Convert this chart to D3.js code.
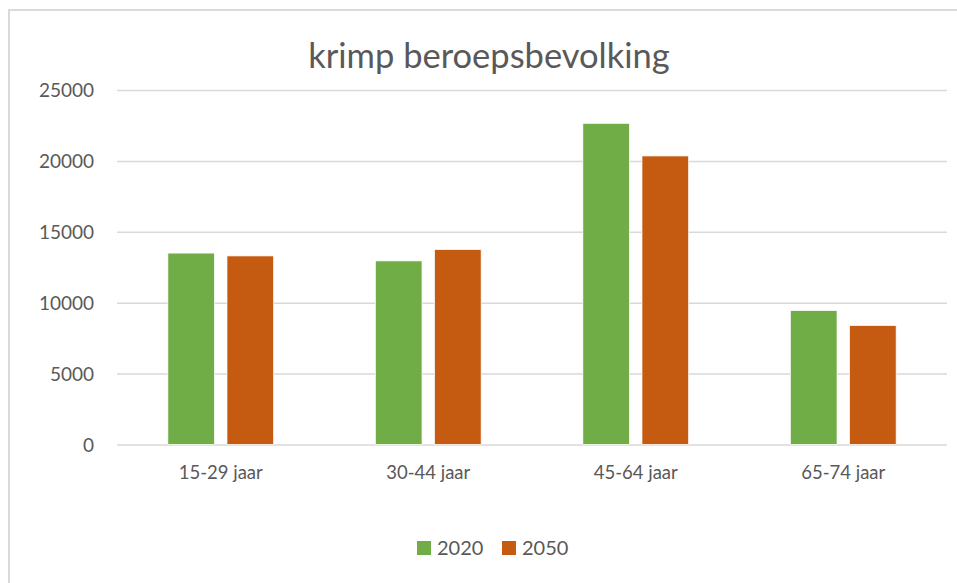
<!DOCTYPE html>
<html>
<head>
<meta charset="utf-8">
<title>krimp beroepsbevolking</title>
<script src="https://cdn.jsdelivr.net/npm/d3@7"></script>
<style>
  body { margin: 0; background: #fff; }
  text { font-family: Lato, "Open Sans", sans-serif; fill: #595959; }
</style>
</head>
<body>
<svg id="chart"></svg>
<script>
const categories = ['15-29 jaar', '30-44 jaar', '45-64 jaar', '65-74 jaar'];
const seriesNames = ['2020', '2050'];
const values2020 = [13500, 12950, 22650, 9450];
const values2050 = [13300, 13750, 20350, 8400];
const yTicks = [0, 5000, 10000, 15000, 20000, 25000];
const colors = ['#70AD47', '#C55A11'];

const [width, height] = [957, 583];
const svg = d3.select('#chart').attr('width', width).attr('height', height);

// chart frame (right/bottom edges fall outside the picture)
svg.append('rect')
  .attr('x', 9).attr('y', 10)
  .attr('width', width + 20).attr('height', height + 20)
  .attr('fill', 'none')
  .attr('stroke', '#d9d9d9')
  .attr('stroke-width', 2);

const plot = { left: 117, right: 947, top: 90, bottom: 444.5 };

const y = d3.scaleLinear().domain([0, 25000]).range([plot.bottom, plot.top]);
const x0 = d3.scaleBand().domain(categories)
  .range([plot.left, plot.right])
  .paddingInner(0.49).paddingOuter(0.245);
const x1 = d3.scaleBand().domain(seriesNames)
  .range([0, x0.bandwidth()])
  .paddingInner(0.21);
const color = d3.scaleOrdinal().domain(seriesNames).range(colors);

// title
svg.append('text')
  .attr('x', 489).attr('y', 68)
  .attr('text-anchor', 'middle')
  .style('font-size', '34.5px')
  .text('krimp beroepsbevolking');

// gridlines + y labels
const yAxis = svg.append('g')
  .attr('transform', 'translate(' + plot.left + ',0)')
  .call(d3.axisLeft(y).tickValues(yTicks).tickSize(-(plot.right - plot.left)).tickPadding(23).tickFormat(d3.format('d')));
yAxis.select('.domain').remove();
yAxis.selectAll('line').attr('stroke', '#d9d9d9').attr('stroke-width', 1.5);
yAxis.selectAll('text')
  .attr('fill', '#595959')
  .style('font-size', '19px')
  .style('font-family', 'Lato, sans-serif')
  .attr('dy', '0.35em');

// x labels
const xAxis = svg.append('g')
  .attr('transform', 'translate(0,' + plot.bottom + ')')
  .call(d3.axisBottom(x0).tickSize(0).tickPadding(21));
xAxis.select('.domain').remove();
xAxis.selectAll('text')
  .attr('fill', '#595959')
  .style('font-size', '18.5px')
  .style('font-family', 'Lato, sans-serif');

// bars
const rows = categories.map((c, i) => ({ cat: c, vals: [values2020[i], values2050[i]] }));
svg.append('g')
  .selectAll('g')
  .data(rows)
  .join('g')
  .attr('transform', d => 'translate(' + x0(d.cat) + ',0)')
  .selectAll('rect')
  .data(d => d.vals.map((v, j) => ({ key: seriesNames[j], value: v })))
  .join('rect')
  .attr('x', d => x1(d.key))
  .attr('y', d => y(d.value))
  .attr('width', x1.bandwidth())
  .attr('height', d => y(0) - y(d.value))
  .attr('fill', d => color(d.key))
  .attr('stroke', '#fff')
  .attr('stroke-width', 0.75);

// legend
const legend = svg.append('g')
  .selectAll('g')
  .data(seriesNames)
  .join('g')
  .attr('transform', (d, i) => 'translate(' + (417 + i * 85) + ',541)');
legend.append('rect')
  .attr('width', 14).attr('height', 14)
  .attr('fill', d => color(d));
legend.append('text')
  .attr('x', 20).attr('y', 14)
  .style('font-size', '20px')
  .text(d => d);
</script>
</body>
</html>
